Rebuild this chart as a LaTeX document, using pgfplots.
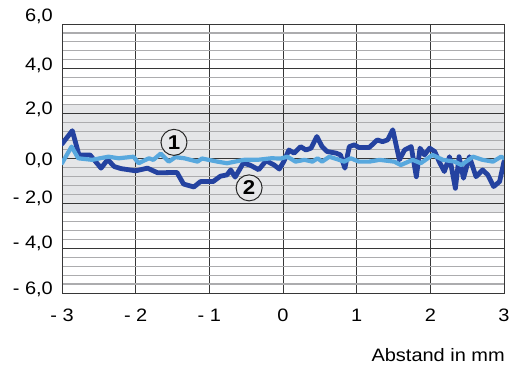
\documentclass[border=0pt]{standalone}
\usepackage{fontspec}
\setmainfont{Liberation Sans}[FakeStretch=1.11]
\usepackage{pgfplots}
\pgfplotsset{compat=1.18}
\definecolor{darkblue}{RGB}{36,66,160}
\definecolor{lightblue}{RGB}{88,168,222}
\definecolor{bandgray}{RGB}{229,230,232}
\definecolor{minorgray}{RGB}{172,172,174}
\definecolor{majorgray}{RGB}{55,55,55}
\begin{document}
\begin{tikzpicture}
\begin{axis}[
 at={(0pt,0pt)}, anchor=south west,
 scale only axis, width=442pt, height=269pt,
 xmin=-3, xmax=3, ymin=-6, ymax=6,
 set layers,
 axis line style={majorgray, line width=0.9pt},
 xtick={-3,-2,-1,0,1,2,3}, xticklabels={{- 3},{- 2},{- 1},0,1,2,3},
 xmajorgrids, major grid style={majorgray, line width=0.8pt},
 ytick={-6,-4,-2,0,2,4,6},
 yticklabels={{\raisebox{-1pt}{- 6,0}},{\raisebox{-0.2pt}{- 4,0}},{\raisebox{-0.2pt}{- 2,0}},{\raisebox{-6.5pt}{0,0}},{\raisebox{-0.8pt}{2,0}},{\raisebox{-1.8pt}{4,0}},{\raisebox{2.5pt}{6,0}}},
 ymajorgrids,
 minor ytick={-5.6,-5.2,-4.8,-4.4,-3.6,-3.2,-2.8,-2.4,-1.6,-1.2,-0.8,-0.4,0.4,0.8,1.2,1.6,2.4,2.8,3.2,3.6,4.4,4.8,5.2,5.6},
 yminorgrids, minor grid style={minorgray, line width=1.1pt},
 major tick length=0pt, minor tick length=0pt,
 tick label style={font=\fontsize{18}{20}\selectfont},
 yticklabel style={anchor=base east, inner sep=0pt, xshift=-9pt},
 xticklabel style={anchor=base, inner sep=0pt, yshift=-28.5pt},
]
\addplot[on layer=axis background, fill=bandgray, draw=none] coordinates {(-3,-2.4) (3,-2.4) (3,2.4) (-3,2.4) (-3,-2.4)};

% curve 2 (dark blue)
\addplot[darkblue, line width=4.8pt, line join=round, line cap=round] coordinates {
(-3.0,0.65) (-2.86,1.24) (-2.77,0.16) (-2.62,0.16) (-2.47,-0.43) (-2.38,-0.05) (-2.29,-0.36) (-2.20,-0.45) (-2.00,-0.55) (-1.84,-0.43) (-1.70,-0.64) (-1.44,-0.62) (-1.35,-1.14) (-1.21,-1.27) (-1.12,-1.03) (-0.95,-1.03) (-0.85,-0.79) (-0.76,-0.73) (-0.71,-0.51) (-0.65,-0.83) (-0.54,-0.21) (-0.45,-0.29) (-0.33,-0.50) (-0.23,-0.10) (-0.12,-0.29) (-0.05,-0.47) (0.01,-0.14) (0.08,0.38) (0.15,0.24) (0.24,0.53) (0.31,0.38) (0.38,0.46) (0.46,0.98) (0.53,0.53) (0.60,0.31) (0.72,0.24) (0.78,0.16) (0.84,-0.43) (0.90,0.53) (0.97,0.61) (1.03,0.49) (1.17,0.49) (1.28,0.83) (1.35,0.75) (1.42,0.83) (1.49,1.28) (1.58,-0.06) (1.65,0.38) (1.74,0.53) (1.81,-0.81) (1.86,0.46) (1.92,0.16) (1.99,0.46) (2.06,0.31) (2.12,-0.14) (2.19,-0.58) (2.26,0.08) (2.34,-1.33) (2.39,0.08) (2.45,-0.88) (2.53,0.08) (2.62,-0.81) (2.71,-0.51) (2.78,-0.73) (2.86,-1.25) (2.94,-1.03) (3.0,-0.14)
};
% curve 1 (light blue)
\addplot[lightblue, line width=4.2pt, line join=round, line cap=round] coordinates {
(-3.0,-0.21) (-2.87,0.53) (-2.78,0.01) (-2.59,-0.06) (-2.50,0.0) (-2.37,0.08) (-2.23,0.01) (-2.03,0.08) (-1.96,-0.21) (-1.82,0.01) (-1.76,-0.06) (-1.66,0.22) (-1.55,-0.14) (-1.46,0.06) (-1.34,0.01) (-1.16,-0.14) (-1.10,0.0) (-0.89,-0.14) (-0.76,-0.21) (-0.53,-0.06) (-0.35,-0.06) (-0.16,0.01) (-0.03,0.0) (0.06,0.08) (0.17,-0.14) (0.29,-0.06) (0.40,-0.14) (0.47,0.01) (0.53,-0.14) (0.63,0.08) (0.76,-0.06) (0.83,-0.14) (0.92,0.01) (1.03,-0.14) (1.17,-0.14) (1.31,-0.06) (1.51,-0.14) (1.60,-0.29) (1.76,-0.06) (1.87,-0.21) (2.03,0.16) (2.17,-0.06) (2.33,-0.14) (2.42,-0.29) (2.58,0.08) (2.71,-0.06) (2.85,-0.14) (2.96,0.08) (3.0,0.01)
};

\node[circle, draw=black!85, fill=bandgray, line width=1pt, minimum size=26pt, inner sep=0pt, font=\fontsize{20}{20}\selectfont\bfseries] at (axis cs:-1.48,0.72) {1};
\node[circle, draw=black!85, fill=bandgray, line width=1pt, minimum size=26pt, inner sep=0pt, font=\fontsize{20}{20}\selectfont\bfseries] at (axis cs:-0.46,-1.31) {2};
\end{axis}
\node[anchor=base east, inner sep=0pt, font=\fontsize{18}{20}\selectfont] at (443pt,-68.5pt) {Abstand in mm};
\path (-62pt,-77pt) rectangle (448pt,293pt);
\end{tikzpicture}
\end{document}
